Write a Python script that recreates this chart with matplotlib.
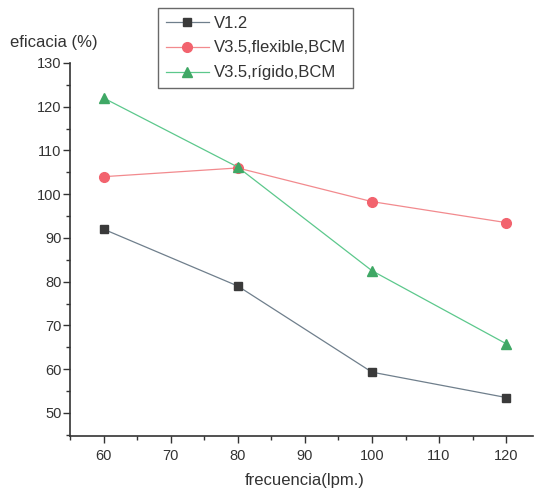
import matplotlib
matplotlib.use("Agg")
import matplotlib.pyplot as plt
from matplotlib.ticker import MultipleLocator

plt.rcParams['font.family'] = ['Liberation Sans', 'DejaVu Sans']

frecuencia = [60, 80, 100, 120]
v12 = [92.0, 79.0, 59.3, 53.5]
v35_flexible = [104.0, 106.0, 98.3, 93.5]
v35_rigido = [122.0, 106.2, 82.5, 65.8]

labels = ['V1.2', 'V3.5,flexible,BCM', 'V3.5,rígido,BCM']

fig = plt.figure(figsize=(5.35, 4.92), dpi=100)
ax = fig.add_axes([70 / 535, 1 - 436 / 492, 463 / 535, 373 / 492])

ax.plot(frecuencia, v12, color='#6f7f8c', lw=0.9, marker='s', ms=6,
        mfc='#3a3a3a', mec='#3a3a3a', label=labels[0])
ax.plot(frecuencia, v35_flexible, color='#f28a8e', lw=0.9, marker='o', ms=7,
        mfc='#f2636e', mec='#f2636e', label=labels[1])
ax.plot(frecuencia, v35_rigido, color='#5cc88c', lw=0.9, marker='^', ms=7,
        mfc='#3fa865', mec='#3fa865', label=labels[2])

ax.set_xlim(55, 124)
ax.set_ylim(44.7, 130)
ax.xaxis.set_major_locator(MultipleLocator(10))
ax.xaxis.set_minor_locator(MultipleLocator(5))
ax.yaxis.set_major_locator(MultipleLocator(10))
ax.yaxis.set_minor_locator(MultipleLocator(5))
ax.spines['top'].set_visible(False)
ax.spines['right'].set_visible(False)
for s in ('left', 'bottom'):
    ax.spines[s].set_color('#333333')
    ax.spines[s].set_linewidth(1.2)
ax.tick_params(which='major', length=5, width=1, color='#333333',
               labelsize=10.5, labelcolor='#333333', pad=1)
ax.tick_params(axis='x', which='major', pad=4)
ax.tick_params(which='minor', length=3, width=1, color='#333333')

fig.text(10 / 535, 1 - 42 / 492, 'eficacia (%)', fontsize=12, color='#333333',
         va='center', ha='left')
fig.text(305 / 535, 1 - 481 / 492, 'frecuencia(lpm.)', fontsize=12,
         color='#333333', va='center', ha='center')

leg = fig.legend(loc='upper left', bbox_to_anchor=(158 / 535, 1 - 8 / 492),
                 fontsize=12, frameon=True, fancybox=False, handlelength=2.6,
                 handletextpad=0.3, borderpad=0.45, labelspacing=0.6,
                 borderaxespad=0)
leg.get_frame().set_edgecolor('#444444')
leg.get_frame().set_linewidth(1)
for t in leg.get_texts():
    t.set_color('#333333')

fig.savefig('out.png', dpi=100)
